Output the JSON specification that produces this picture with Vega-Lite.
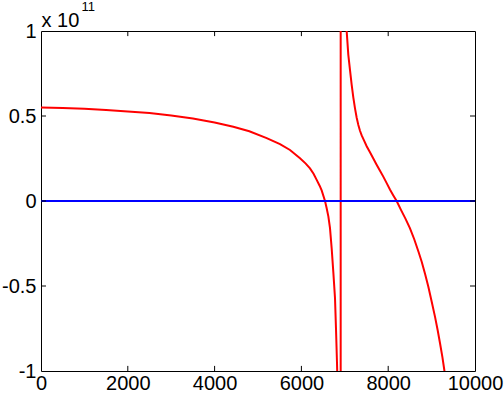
{
  "$schema": "https://vega.github.io/schema/vega-lite/v6.json",
  "autosize": "none",
  "width": 434,
  "height": 340,
  "padding": {"left": 41, "top": 31, "right": 29, "bottom": 23},
  "background": "white",
  "config": {
    "view": {"stroke": "black", "strokeWidth": 1},
    "font": "Liberation Sans",
    "axis": {
      "domain": false,
      "grid": false,
      "ticks": false,
      "labelFont": "Liberation Sans",
      "labelFontSize": 20,
      "labelColor": "black",
      "labelFlush": false,
      "labelOverlap": false,
      "titleFont": "Liberation Sans",
      "titleColor": "black",
      "titleFontWeight": "normal"
    }
  },
  "datasets": {
    "red": [
      {"x": 0, "y": 0.55}, {"x": 500, "y": 0.547}, {"x": 1000, "y": 0.543}, {"x": 1500, "y": 0.536},
      {"x": 2000, "y": 0.527}, {"x": 2500, "y": 0.517}, {"x": 3000, "y": 0.503}, {"x": 3500, "y": 0.485},
      {"x": 4000, "y": 0.462}, {"x": 4431, "y": 0.437}, {"x": 4800, "y": 0.41}, {"x": 5200, "y": 0.37},
      {"x": 5507, "y": 0.335}, {"x": 5737, "y": 0.3}, {"x": 5968, "y": 0.251}, {"x": 6100, "y": 0.22},
      {"x": 6198, "y": 0.192}, {"x": 6280, "y": 0.16}, {"x": 6352, "y": 0.124}, {"x": 6420, "y": 0.09},
      {"x": 6467, "y": 0.062}, {"x": 6544, "y": 0.0}, {"x": 6580, "y": -0.04}, {"x": 6621, "y": -0.09},
      {"x": 6659, "y": -0.16}, {"x": 6698, "y": -0.28}, {"x": 6736, "y": -0.42}, {"x": 6774, "y": -0.57},
      {"x": 6797, "y": -0.75}, {"x": 6820, "y": -0.95}, {"x": 6835, "y": -1.1}, {"x": 6860, "y": -1.6},
      {"x": 6885, "y": -3}, {"x": 6904, "y": -60}, {"x": 6906, "y": 60}, {"x": 6950, "y": 3},
      {"x": 7000, "y": 1.5}, {"x": 7043, "y": 1.0}, {"x": 7081, "y": 0.86}, {"x": 7120, "y": 0.77},
      {"x": 7158, "y": 0.685}, {"x": 7196, "y": 0.61}, {"x": 7235, "y": 0.545}, {"x": 7274, "y": 0.49},
      {"x": 7312, "y": 0.447}, {"x": 7350, "y": 0.413}, {"x": 7389, "y": 0.386}, {"x": 7450, "y": 0.352},
      {"x": 7504, "y": 0.322}, {"x": 7580, "y": 0.287}, {"x": 7657, "y": 0.25}, {"x": 7730, "y": 0.215},
      {"x": 7811, "y": 0.178}, {"x": 7890, "y": 0.142}, {"x": 7965, "y": 0.105}, {"x": 8040, "y": 0.068},
      {"x": 8118, "y": 0.033}, {"x": 8195, "y": 0.0},
      {"x": 8300, "y": -0.055}, {"x": 8400, "y": -0.105}, {"x": 8500, "y": -0.16}, {"x": 8600, "y": -0.225},
      {"x": 8700, "y": -0.3}, {"x": 8772, "y": -0.357}, {"x": 8850, "y": -0.43}, {"x": 8925, "y": -0.504},
      {"x": 9000, "y": -0.59}, {"x": 9078, "y": -0.68}, {"x": 9140, "y": -0.76}, {"x": 9194, "y": -0.837},
      {"x": 9250, "y": -0.92}, {"x": 9293, "y": -0.994}, {"x": 9320, "y": -1.05}, {"x": 9400, "y": -1.25}
    ],
    "blue": [{"x": 0, "y": 0}, {"x": 10000, "y": 0}],
    "xticks": [{"v": 2000}, {"v": 4000}, {"v": 6000}, {"v": 8000}],
    "yticks": [{"v": -0.5}, {"v": 0}, {"v": 0.5}]
  },
  "layer": [
    {
      "data": {"name": "red"},
      "mark": {"type": "line", "color": "#ff0000", "strokeWidth": 2, "clip": true},
      "encoding": {
        "x": {"field": "x", "type": "quantitative", "scale": {"domain": [0, 10000], "nice": false, "zero": false},
              "axis": {"orient": "bottom", "values": [0, 2000, 4000, 6000, 8000, 10000], "labelExpr": "'' + datum.value", "labelPadding": 2, "title": null}},
        "y": {"field": "y", "type": "quantitative", "scale": {"domain": [-1, 1], "nice": false, "zero": false},
              "axis": {"orient": "left", "values": [-1, -0.5, 0, 0.5, 1], "labelExpr": "'' + datum.value", "labelPadding": 5,
                       "title": "x 10", "titleAngle": 0, "titleFontSize": 20, "titleAlign": "left", "titleBaseline": "alphabetic", "titleX": 0, "titleY": -5}}
      }
    },
    {
      "data": {"name": "blue"},
      "mark": {"type": "line", "color": "#0000ff", "strokeWidth": 2, "clip": true},
      "encoding": {
        "x": {"field": "x", "type": "quantitative", "axis": null},
        "y": {"field": "y", "type": "quantitative",
              "axis": {"orient": "right", "labels": false, "values": [0],
                       "title": "11", "titleAngle": 0, "titleFontSize": 13, "titleAlign": "left", "titleBaseline": "alphabetic", "titleX": -394, "titleY": -21}}
      }
    },
    {
      "data": {"name": "xticks"},
      "mark": {"type": "rule", "color": "black", "strokeWidth": 1},
      "encoding": {
        "x": {"field": "v", "type": "quantitative", "axis": null},
        "y": {"datum": -1, "type": "quantitative", "axis": null},
        "y2": {"datum": -0.97}
      }
    },
    {
      "data": {"name": "xticks"},
      "mark": {"type": "rule", "color": "black", "strokeWidth": 1},
      "encoding": {
        "x": {"field": "v", "type": "quantitative", "axis": null},
        "y": {"datum": 1, "type": "quantitative", "axis": null},
        "y2": {"datum": 0.97}
      }
    },
    {
      "data": {"name": "yticks"},
      "mark": {"type": "rule", "color": "black", "strokeWidth": 1},
      "encoding": {
        "y": {"field": "v", "type": "quantitative", "axis": null},
        "x": {"datum": 0, "type": "quantitative", "axis": null},
        "x2": {"datum": 115}
      }
    },
    {
      "data": {"name": "yticks"},
      "mark": {"type": "rule", "color": "black", "strokeWidth": 1},
      "encoding": {
        "y": {"field": "v", "type": "quantitative", "axis": null},
        "x": {"datum": 10000, "type": "quantitative", "axis": null},
        "x2": {"datum": 9885}
      }
    }
  ],
  "resolve": {"axis": {"x": "independent", "y": "independent"}}
}
